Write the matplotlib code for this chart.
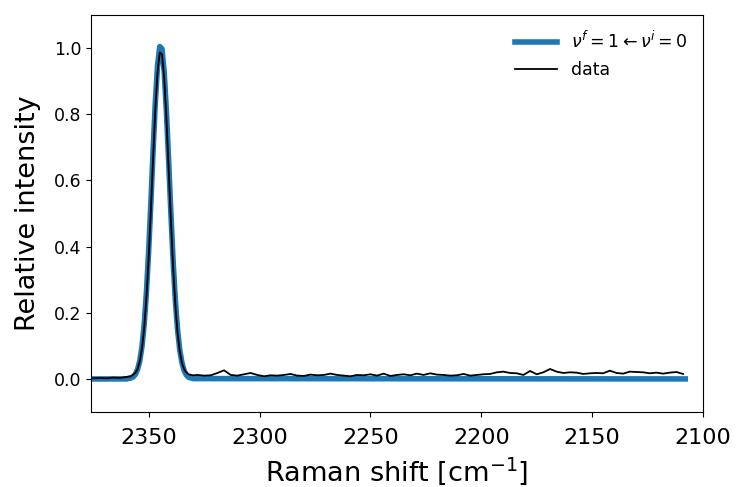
import matplotlib
matplotlib.use('Agg')
import matplotlib.pyplot as plt

# fitted band (blue)
fit_x = [2375, 2360, 2358, 2357, 2356, 2355, 2354, 2353, 2352, 2351, 2350,
         2349, 2348, 2347, 2346, 2345, 2344, 2343, 2342, 2341, 2340, 2339,
         2338, 2337, 2336, 2335, 2334, 2333, 2332, 2330, 2108]
fit_y = [0.0, 0.0, 0.003, 0.006, 0.014, 0.029, 0.055, 0.099, 0.167, 0.263, 0.387,
         0.534, 0.691, 0.836, 0.947, 1.005, 0.998, 0.928, 0.809, 0.660, 0.504, 0.360,
         0.241, 0.151, 0.089, 0.049, 0.025, 0.012, 0.005, 0.001, 0.0]

# measured spectrum (black)
data_x = [2375, 2372, 2369, 2366, 2363, 2360, 2358, 2357, 2356, 2355, 2354,
          2353, 2352, 2351, 2350, 2349, 2348, 2347, 2346, 2345, 2344, 2343,
          2342, 2341, 2340, 2339, 2338, 2337, 2336, 2335, 2334, 2333, 2332,
          2330, 2328,
          2325, 2322, 2319, 2316, 2313, 2310, 2307, 2304, 2301, 2298, 2295,
          2292, 2289, 2286, 2283, 2280, 2277, 2274, 2271, 2268, 2265, 2262,
          2259, 2256, 2253, 2250, 2247, 2244, 2241, 2238, 2235, 2232, 2229,
          2226, 2223, 2220, 2217, 2214, 2211, 2208, 2205, 2202, 2199, 2196,
          2193, 2190, 2187, 2184, 2181, 2178, 2175, 2172, 2169, 2166, 2163,
          2160, 2157, 2154, 2151, 2148, 2145, 2142, 2139, 2136, 2133, 2130,
          2127, 2124, 2121, 2118, 2115, 2112, 2109]
data_y = [0.002, 0.003, 0.002, 0.004, 0.003, 0.006, 0.008, 0.013, 0.018, 0.030, 0.054,
          0.094, 0.156, 0.247, 0.366, 0.512, 0.668, 0.815, 0.928, 0.987, 0.982, 0.910,
          0.787, 0.636, 0.482, 0.341, 0.226, 0.141, 0.084, 0.049, 0.029, 0.019, 0.014,
          0.011, 0.012,
          0.010, 0.011, 0.018, 0.026, 0.012, 0.010, 0.014, 0.018, 0.012, 0.008, 0.011,
          0.010, 0.012, 0.015, 0.010, 0.009, 0.013, 0.011, 0.012, 0.016, 0.012, 0.010,
          0.008, 0.012, 0.011, 0.014, 0.010, 0.016, 0.009, 0.012, 0.014, 0.011, 0.016,
          0.012, 0.017, 0.013, 0.012, 0.010, 0.011, 0.015, 0.010, 0.012, 0.014, 0.015,
          0.020, 0.022, 0.018, 0.017, 0.012, 0.024, 0.014, 0.020, 0.030, 0.022, 0.018,
          0.020, 0.019, 0.015, 0.017, 0.018, 0.017, 0.025, 0.018, 0.016, 0.022, 0.021,
          0.020, 0.017, 0.019, 0.016, 0.019, 0.021, 0.015]

fig = plt.figure(figsize=(7.4, 4.87), dpi=100)
ax = fig.add_axes([0.123, 0.154, 0.827, 0.815])

ax.plot(fit_x, fit_y, color='#1f77b4', lw=4, label=r'$\nu^f = 1 \leftarrow \nu^i = 0$')
ax.plot(data_x, data_y, color='black', lw=1.3, label='data')

ax.set_xlim(2376, 2100)
ax.set_ylim(-0.1, 1.1)
ax.set_xticks([2350, 2300, 2250, 2200, 2150, 2100])
ax.set_yticks([0.0, 0.2, 0.4, 0.6, 0.8, 1.0])
ax.tick_params(axis='x', labelsize=16, pad=8)
ax.tick_params(axis='y', labelsize=12.5)
ax.set_xlabel(r'Raman shift [cm$^{-1}$]', fontsize=19.5, labelpad=5)
ax.set_ylabel('Relative intensity', fontsize=19.5, labelpad=9)
ax.legend(loc='upper right', frameon=False, fontsize=12.5, handlelength=2.4)

fig.savefig('out.png', dpi=100)
